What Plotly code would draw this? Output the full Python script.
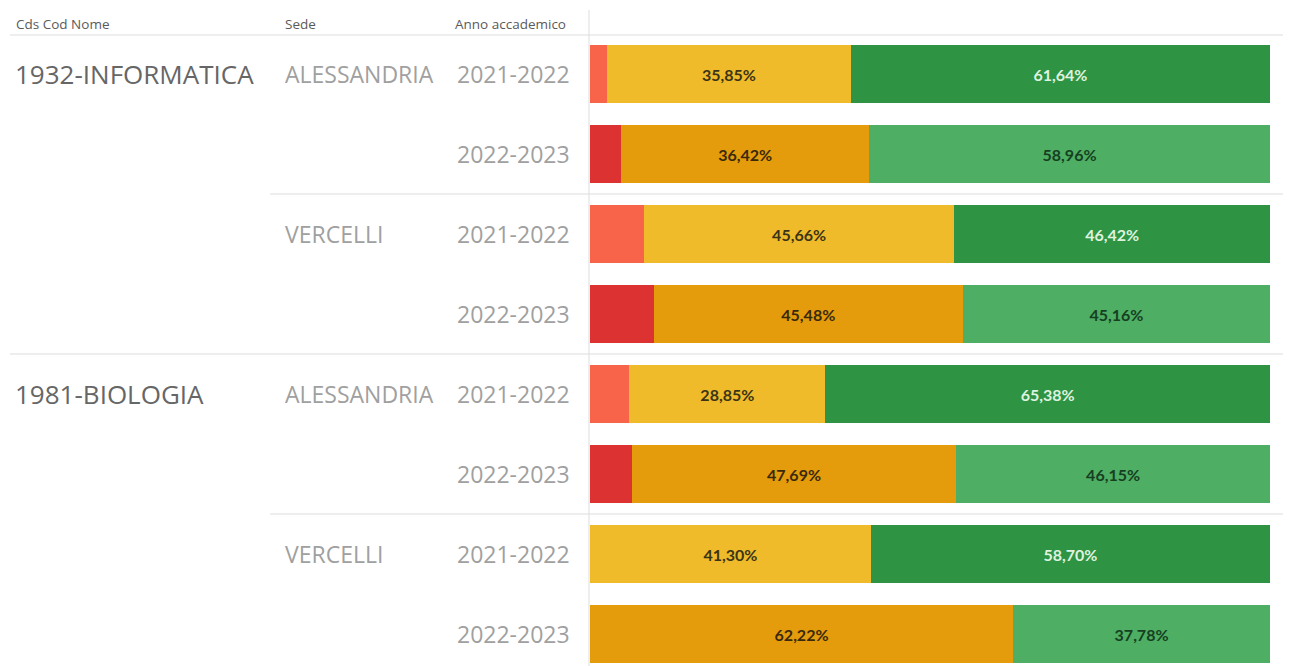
import plotly.graph_objects as go

# ---- data ----
cds = ["1932-INFORMATICA", "", "", "", "1981-BIOLOGIA", "", "", ""]
sede = ["ALESSANDRIA", "", "VERCELLI", "", "ALESSANDRIA", "", "VERCELLI", ""]
anno = ["2021-2022", "2022-2023"] * 4
mid_vals = [35.85, 36.42, 45.66, 45.48, 28.85, 47.69, 41.30, 62.22]
green_vals = [61.64, 58.96, 46.42, 45.16, 65.38, 46.15, 58.70, 37.78]
red_vals = [round(100 - m - g, 2) for m, g in zip(mid_vals, green_vals)]

headers = ["Cds Cod Nome", "Sede", "Anno accademico"]

# ---- styles ----
RED = {"2021-2022": "#F7644A", "2022-2023": "#DC3232"}
MID = {"2021-2022": "#F0BB2B", "2022-2023": "#E49C0D"}
GRN = {"2021-2022": "#2E9444", "2022-2023": "#4EAE63"}
MID_TXT = {"2021-2022": "#3b3516", "2022-2023": "#3b2a0a"}
GRN_TXT = {"2021-2022": "#dff2df", "2022-2023": "#163f22"}

ypos = list(range(len(anno)))

def fmt(v):
    return (f"{v:.2f}%").replace(".", ",")

TXT = dict(size=16, family="Lato", weight="bold")

fig = go.Figure()
fig.add_trace(go.Bar(
    y=ypos, x=red_vals, orientation="h",
    marker=dict(color=[RED[a] for a in anno], line=dict(width=0)),
    width=0.73, hoverinfo="skip"))
fig.add_trace(go.Bar(
    y=ypos, x=mid_vals, orientation="h",
    marker=dict(color=[MID[a] for a in anno], line=dict(width=0)),
    width=0.73, text=[fmt(v) for v in mid_vals], textposition="inside",
    insidetextanchor="middle", textangle=0, constraintext="none",
    textfont=dict(color=[MID_TXT[a] for a in anno], **TXT),
    hoverinfo="skip"))
fig.add_trace(go.Bar(
    y=ypos, x=green_vals, orientation="h",
    marker=dict(color=[GRN[a] for a in anno], line=dict(width=0)),
    width=0.73, text=[fmt(v) for v in green_vals], textposition="inside",
    insidetextanchor="middle", textangle=0, constraintext="none",
    textfont=dict(color=[GRN_TXT[a] for a in anno], **TXT),
    hoverinfo="skip"))

OFF = 8  # page body margin
W, H = 1291 - OFF, 666 - OFF
L, R, T, B = 590 - OFF, 21, 34 - OFF, 0
pw = W - L - R
ph = H - T - B

def px(x):
    return (x - OFF - L) / pw

def py(y):
    return (H - B - (y - OFF)) / ph

ann = []
hdr_x = [14, 283, 453]
for h, x in zip(headers, hdr_x):
    ann.append(dict(text=h, x=px(x), y=py(24), xref="paper", yref="paper",
                    xanchor="left", yanchor="middle", showarrow=False,
                    font=dict(size=13.5, color="#5a5a5a", family="Open Sans")))
for i in ypos:
    if cds[i]:
        ann.append(dict(text=cds[i], x=px(13), y=i, xref="paper", yref="y",
                        xanchor="left", yanchor="middle", showarrow=False,
                        font=dict(size=26, color="#666666", family="Open Sans")))
    if sede[i]:
        ann.append(dict(text=sede[i], x=px(283), y=i, xref="paper", yref="y",
                        xanchor="left", yanchor="middle", showarrow=False,
                        font=dict(size=23, color="#a0a0a0", family="Open Sans")))
    ann.append(dict(text=anno[i], x=px(572), y=i, xref="paper", yref="y",
                    xanchor="right", yanchor="middle", showarrow=False,
                    font=dict(size=23, color="#a0a0a0", family="Open Sans")))

shapes = []
shapes.append(dict(type="line", xref="paper", yref="paper", x0=px(10), x1=px(1291),
                   y0=py(35), y1=py(35), line=dict(color="#dddddd", width=1)))
shapes.append(dict(type="line", xref="paper", yref="paper", x0=px(589), x1=px(589),
                   y0=py(10), y1=0, line=dict(color="#dddddd", width=1)))
for yv, x0 in [(1.5, 270), (3.5, 10), (5.5, 270)]:
    shapes.append(dict(type="line", xref="paper", yref="y", x0=px(x0), x1=px(1291),
                       y0=yv, y1=yv, line=dict(color="#dddddd", width=1)))

fig.update_layout(
    barmode="stack", showlegend=False,
    width=W, height=H,
    margin=dict(l=L, r=R, t=T, b=B, pad=0),
    paper_bgcolor="white", plot_bgcolor="white",
    xaxis=dict(range=[0, 100], visible=False, fixedrange=True),
    yaxis=dict(range=[7.4, -0.5], visible=False, fixedrange=True),
    annotations=ann, shapes=shapes,
)

fig.write_html("out.html")
